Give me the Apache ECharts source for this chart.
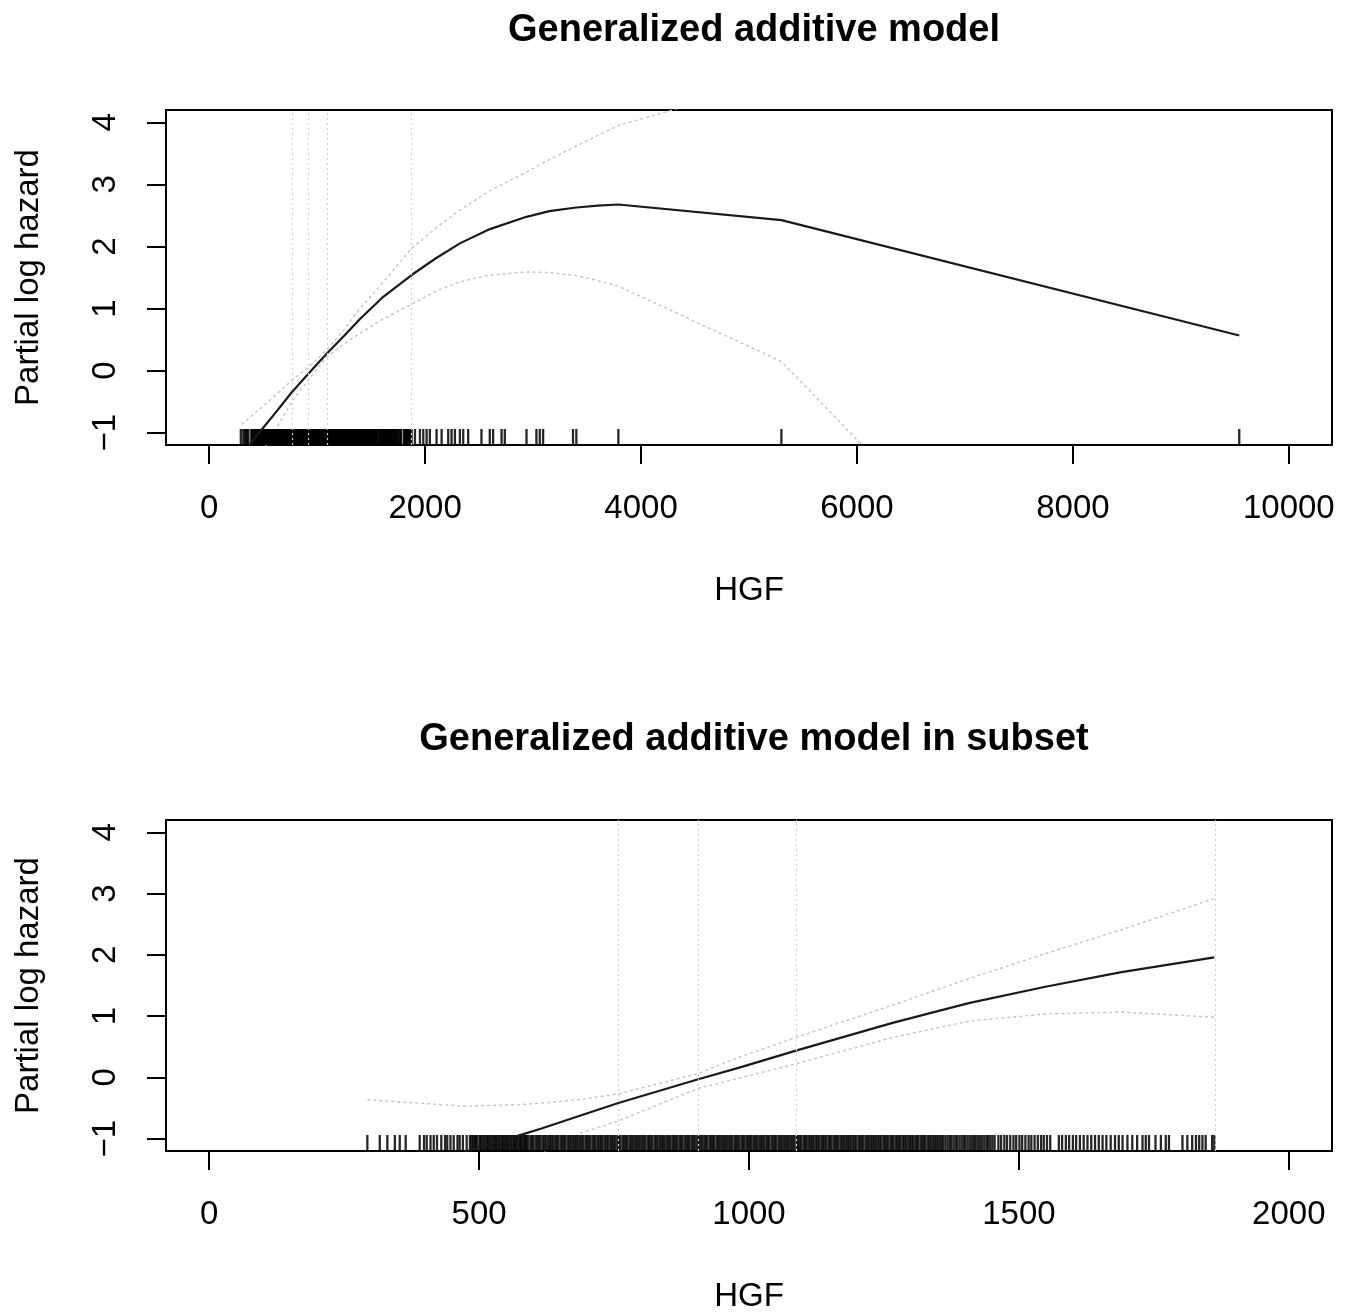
<!DOCTYPE html>
<html><head><meta charset="utf-8">
<script src="https://cdn.jsdelivr.net/npm/echarts@6/dist/echarts.min.js"></script>
<style>html,body{margin:0;padding:0;background:#fff}#c{width:1356px;height:1314px}</style>
</head><body><div id="c"></div><script>
const FONT = '"Liberation Sans", Arial, Helvetica, sans-serif';
const panelTitles = ['Generalized additive model', 'Generalized additive model in subset'];
const xAxisTitle = 'HGF';
const yAxisTitle = 'Partial log hazard';
const topXTicks = [0, 2000, 4000, 6000, 8000, 10000];
const subXTicks = [0, 500, 1000, 1500, 2000];
const yTicks = [-1, 0, 1, 2, 3, 4];

// full model: fitted smooth term and its confidence bounds
const topX     = [300, 487, 600, 765, 950, 1088, 1250, 1397, 1600, 1875, 2100, 2322, 2600, 2939, 3150, 3401, 3600, 3790, 5300, 9541];
const topFit   = [-1.36, -0.95, -0.71, -0.35, 0.01, 0.27, 0.56, 0.83, 1.17, 1.54, 1.81, 2.05, 2.28, 2.478, 2.57, 2.628, 2.66, 2.677, 2.424, 0.565];
const topUpper = [-0.87, -0.59, -0.42, -0.16, 0.10, 0.33, 0.66, 1.00, 1.40, 1.97, 2.30, 2.585, 2.90, 3.20, 3.40, 3.62, 3.79, 3.95, 4.70, 8.6];
const topLower = [-1.90, -1.32, -1.00, -0.50, -0.08, 0.22, 0.43, 0.60, 0.82, 1.07, 1.28, 1.43, 1.54, 1.59, 1.58, 1.53, 1.45, 1.36, 0.146, -7.5];
const topKnots = [767, 915, 1091, 1876];

// subset model
const subX     = [293, 475, 582, 617, 688, 758, 906, 982, 1087, 1266, 1407, 1549, 1690, 1862];
const subFit   = [-1.75, -1.21, -0.925, -0.83, -0.62, -0.418, -0.03, 0.16, 0.438, 0.891, 1.212, 1.479, 1.719, 1.96];
const subUpper = [-0.364, -0.47, -0.44, -0.418, -0.36, -0.268, 0.064, 0.33, 0.651, 1.18, 1.61, 2.02, 2.41, 2.92];
const subLower = [-3.1, -1.95, -1.41, -1.24, -0.91, -0.71, -0.178, -0.01, 0.223, 0.651, 0.918, 1.035, 1.067, 0.982];
const subKnots = [758, 906, 1087, 1864];
const subsetMaxHGF = 1870;

// observed HGF values (rug)
const hgfObs = [293, 316, 330, 344, 353, 364, 390, 398, 403, 410, 416, 422, 430, 437, 441, 447, 453, 460, 464, 470, 477, 483,
486, 489, 492, 494, 497, 501, 503, 506, 509, 512, 515, 517, 520, 523, 526, 529, 531, 534, 537, 540, 543, 545, 548, 551, 553, 556, 559, 562, 565, 567, 570, 573, 576, 578, 581, 584, 586,
588, 591, 595, 598, 601, 605, 608, 611, 614, 618, 621, 624, 628, 631, 634, 637, 641, 644, 647, 651, 654, 657, 660, 664, 667, 670, 674, 677, 680, 683, 687, 690, 693, 697, 700, 703, 706, 710, 713, 716, 720, 723, 726, 729, 733, 736, 739, 743, 746, 749, 752, 756, 759, 762, 766, 769, 772, 775, 779, 782, 785, 789, 792, 795, 798, 802, 805, 808, 812, 815, 818, 821, 825, 828, 831, 835, 838, 841, 844, 848, 851, 854, 858, 861, 864, 867, 871, 874, 877, 881, 884, 887, 890, 894, 897, 900, 904, 907, 910, 913, 917, 920, 923, 927, 930, 933, 936, 940, 943, 946, 950, 953, 956, 959, 963, 966, 969, 973, 976, 979, 982, 986, 989, 992, 996, 999,
1002, 1005, 1009, 1012, 1015, 1019, 1022, 1025, 1028, 1032, 1035, 1038, 1042, 1045, 1048, 1051, 1055, 1058, 1061, 1065, 1068, 1071, 1074, 1078, 1081, 1084, 1088, 1091, 1094, 1097, 1101, 1104, 1107, 1111, 1114, 1117, 1120, 1124, 1127, 1130, 1134, 1137, 1140, 1143, 1147, 1150, 1153, 1157, 1160, 1163, 1166, 1170, 1173, 1176, 1180, 1183, 1186, 1189, 1193, 1196, 1199, 1203, 1206, 1209, 1212, 1216, 1219, 1222, 1226, 1229, 1232, 1235, 1239, 1242, 1245, 1249, 1252, 1255, 1258, 1262, 1265, 1268, 1272, 1275, 1278, 1281, 1285, 1288, 1291, 1295, 1298, 1301, 1304, 1308, 1311, 1314, 1318, 1321, 1324, 1327, 1331, 1334, 1337, 1341, 1344, 1347, 1350, 1354, 1357, 1360, 1364,
1368, 1372, 1375, 1379, 1383, 1386, 1390, 1394, 1398, 1401, 1405, 1409, 1413, 1417, 1420, 1424, 1428, 1432, 1436, 1440, 1443, 1447, 1451, 1455,
1462, 1467, 1473, 1478, 1484, 1490, 1495, 1501, 1506, 1512, 1518, 1523, 1529, 1535, 1541, 1546, 1552, 1558,
1574, 1580, 1587, 1593, 1600, 1606, 1613, 1620, 1627, 1634, 1641, 1648, 1655, 1662, 1670, 1678, 1685,
1692, 1701, 1710, 1719, 1729, 1735, 1741, 1753, 1763, 1772, 1778, 1803, 1812, 1821, 1828, 1834, 1840, 1846, 1858, 1862,
1875, 1906, 1952, 1983, 2014, 2044, 2106, 2153, 2214, 2245, 2276, 2322, 2353, 2399, 2522, 2599, 2630, 2708, 2738, 2939, 3031, 3062, 3093, 3370, 3401, 3790, 5300, 9541];

const Y_MIN = -1.2, Y_MAX = 4.2;
const zip = (xs, ys) => xs.map((x, i) => [x, ys[i]]);

const fitStyle = { color: '#1a1a1a', width: 2.2 };
const ciStyle = { color: '#c4c4c4', width: 1.4, type: [3, 3] };
const knotStyle = { color: '#d0d0d0', width: 1.2, type: [2, 3] };

function lineSeries(idx, xs, ys, style, z) {
  return { type: 'line', xAxisIndex: idx, yAxisIndex: idx, data: zip(xs, ys), showSymbol: false, symbol: 'none',
    lineStyle: style, clip: true, silent: true, z: z, animation: false };
}
function knotSeries(idx, knots) {
  return { type: 'line', xAxisIndex: idx, yAxisIndex: idx, data: [], silent: true, animation: false,
    markLine: { silent: true, symbol: ['none', 'none'], label: { show: false }, lineStyle: knotStyle,
      data: knots.map(k => ({ xAxis: k })), animation: false } };
}
function rugSeries(idx, values) {
  return { type: 'custom', xAxisIndex: idx, yAxisIndex: idx, data: values.map(v => [v, Y_MIN]), silent: true, animation: false, z: 3,
    progressive: 0,
    renderItem: (params, api) => {
      const p = api.coord([api.value(0), Y_MIN]);
      return { type: 'line', shape: { x1: p[0], y1: p[1], x2: p[0], y2: p[1] - 16 },
        style: { stroke: 'rgba(0,0,0,0.85)', lineWidth: 2.3 } };
    } };
}
const labelFont = { fontSize: 33, color: '#000', fontFamily: FONT };
const fmt = v => String(v).replace('-', '\u2212');
function xAxisCfg(idx, min, max, ticks) {
  return { gridIndex: idx, type: 'value', min: min, max: max, axisLine: { show: false, onZero: false }, splitLine: { show: false },
    axisTick: { show: true, length: 19, lineStyle: { color: '#000', width: 2 }, customValues: ticks },
    axisLabel: Object.assign({ customValues: ticks, margin: 47, formatter: fmt }, labelFont),
    name: xAxisTitle, nameLocation: 'middle', nameGap: 129, nameTextStyle: labelFont };
}
function yAxisCfg(idx) {
  return { gridIndex: idx, type: 'value', min: Y_MIN, max: Y_MAX, axisLine: { show: false, onZero: false }, splitLine: { show: false },
    axisTick: { show: true, length: 19, lineStyle: { color: '#000', width: 2 }, customValues: yTicks },
    axisLabel: Object.assign({ customValues: yTicks, margin: 44, rotate: 90, formatter: fmt }, labelFont),
    name: yAxisTitle, nameLocation: 'middle', nameGap: 121, nameTextStyle: labelFont };
}

const chart = echarts.init(document.getElementById('c'), null, { renderer: 'canvas' });
chart.setOption({
  backgroundColor: '#fff',
  animation: false,
  title: [
    { text: panelTitles[0], left: 749, top: 7, textAlign: 'center', textStyle: { fontSize: 38, fontWeight: 'bold', fontFamily: FONT, color: '#000' } },
    { text: panelTitles[1], left: 749, top: 716, textAlign: 'center', textStyle: { fontSize: 38, fontWeight: 'bold', fontFamily: FONT, color: '#000' } }
  ],
  grid: [
    { left: 166, top: 110, width: 1166, height: 335, show: true, borderColor: '#000', borderWidth: 2, backgroundColor: 'transparent' },
    { left: 166, top: 820, width: 1166, height: 335, show: true, borderColor: '#000', borderWidth: 2, backgroundColor: 'transparent' }
  ],
  xAxis: [xAxisCfg(0, -400, 10400, topXTicks), xAxisCfg(1, -80, 2080, subXTicks)],
  yAxis: [yAxisCfg(0), yAxisCfg(1)],
  series: [
    knotSeries(0, topKnots),
    lineSeries(0, topX, topUpper, ciStyle, 2),
    lineSeries(0, topX, topLower, ciStyle, 2),
    rugSeries(0, hgfObs),
    lineSeries(0, topX, topFit, fitStyle, 4),
    knotSeries(1, subKnots),
    lineSeries(1, subX, subUpper, ciStyle, 2),
    lineSeries(1, subX, subLower, ciStyle, 2),
    rugSeries(1, hgfObs.filter(v => v <= subsetMaxHGF)),
    lineSeries(1, subX, subFit, fitStyle, 4)
  ]
});
</script></body></html>
